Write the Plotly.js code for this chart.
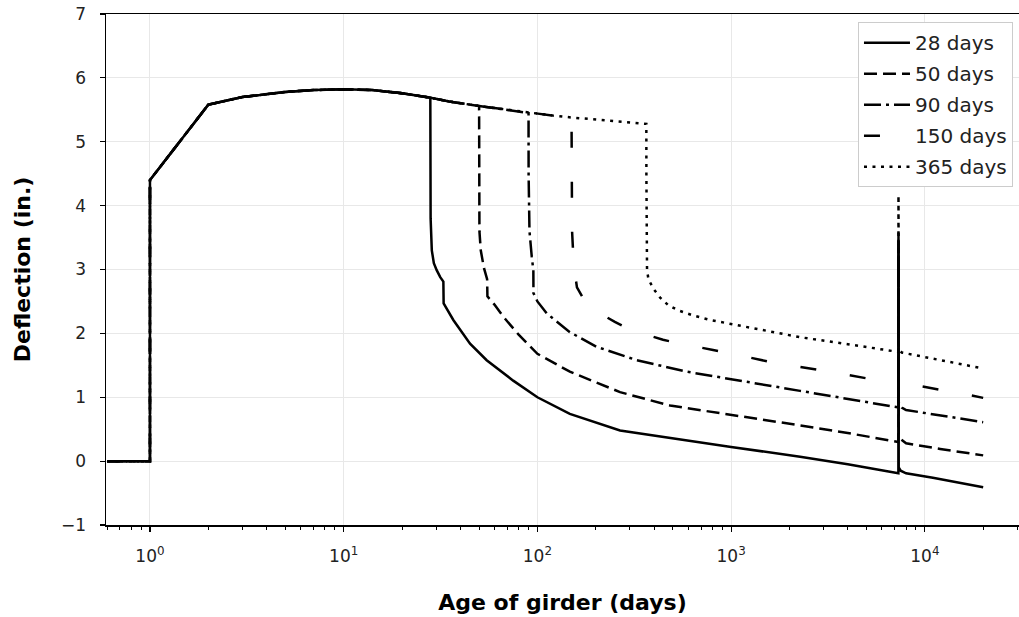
<!DOCTYPE html>
<html>
<head>
<meta charset="utf-8">
<script src="https://cdn.plot.ly/plotly-3.0.1.min.js"></script>
<style>html,body{margin:0;padding:0;background:#fff;}#chart{width:1019px;height:617px;}</style>
</head>
<body>
<div id="chart"></div>
<script>
// Shared curve before release (age in days, deflection in inches)
const preDays = [0.6, 1, 1, 2, 3, 4, 5, 7, 10, 14, 20, 28, 35, 50, 70, 90, 120, 150, 200, 250, 300, 365];
const preDefl = [0, 0, 4.4, 5.58, 5.70, 5.75, 5.78, 5.81, 5.82, 5.81, 5.76, 5.69, 5.63, 5.56, 5.50, 5.45, 5.41, 5.38, 5.35, 5.32, 5.30, 5.28];

const seriesNames = ['28 days', '50 days', '90 days', '150 days', '365 days'];
const releaseDays = [28, 50, 90, 150, 365];

// Curves after release
const post28Days = [28.02, 28.1, 28.5, 29.2, 30.2, 31.5, 32.7, 32.8, 36.8, 44.9, 54.7, 75, 100, 147, 267, 484, 700, 1000, 2270, 4000, 7300, 7310, 7330, 7500, 8000, 11000, 20000];
const post28Defl = [4.5, 3.8, 3.30, 3.10, 2.99, 2.88, 2.81, 2.47, 2.21, 1.84, 1.58, 1.26, 1.00, 0.74, 0.48, 0.36, 0.29, 0.22, 0.07, -0.05, -0.19, 3.58, -0.10, -0.15, -0.19, -0.26, -0.41];

const post50Days = [50.02, 50.2, 51, 53, 55, 55.2, 60, 66.7, 80, 100, 147, 267, 484, 691, 1000, 2270, 4000, 7300, 7310, 7330, 7400, 8000, 12000, 20000];
const post50Defl = [4.5, 3.6, 3.3, 3.02, 2.85, 2.58, 2.45, 2.26, 1.98, 1.68, 1.40, 1.08, 0.87, 0.80, 0.72, 0.56, 0.44, 0.30, 3.4, 0.42, 0.36, 0.28, 0.19, 0.09];

const post90Days = [90.05, 91, 93.5, 95, 95.3, 95.4, 100, 112, 147, 202, 326, 590, 1000, 2270, 7300, 7310, 7330, 7600, 8000, 20000];
const post90Defl = [4.5, 3.6, 3.2, 3.04, 2.99, 2.63, 2.5, 2.31, 2.02, 1.79, 1.58, 1.40, 1.28, 1.10, 0.84, 3.45, 0.92, 0.84, 0.80, 0.61];

const post150Days = [150.1, 151, 153, 156, 160, 170, 180, 200, 251, 301, 445, 545, 807, 988, 1600, 2950, 5370, 7300, 7310, 7330, 7600, 8820, 16000, 20000];
const post150Defl = [4.5, 3.6, 3.25, 2.95, 2.72, 2.58, 2.48, 2.35, 2.18, 2.06, 1.90, 1.84, 1.74, 1.69, 1.55, 1.42, 1.28, 1.22, 3.4, 1.28, 1.22, 1.19, 1.05, 0.99];

const post365Days = [365.2, 366, 368, 374, 397, 430, 474, 534, 638, 778, 987, 1253, 2270, 4000, 7300, 7310, 7330, 7600, 20000];
const post365Defl = [4.5, 3.6, 3.0, 2.85, 2.70, 2.56, 2.44, 2.36, 2.28, 2.21, 2.15, 2.09, 1.94, 1.83, 1.71, 4.16, 1.76, 1.70, 1.45];

const tickVals = [1, 10, 100, 1000, 10000];
const tickText = ['10<sup>0</sup>', '10<sup>1</sup>', '10<sup>2</sup>', '10<sup>3</sup>', '10<sup>4</sup>'];

const postDays = [post28Days, post50Days, post90Days, post150Days, post365Days];
const postDefl = [post28Defl, post50Defl, post90Defl, post150Defl, post365Defl];
const dashes = ['solid', '13px,6px', '17px,5px,3px,5px', '16px,34px', '3px,5.5px'];

const FONT = 'DejaVu Sans, Verdana, sans-serif';

const traces = seriesNames.map((name, i) => {
  const xs = [], ys = [];
  for (let k = 0; k < preDays.length; k++) {
    if (preDays[k] <= releaseDays[i]) { xs.push(preDays[k]); ys.push(preDefl[k]); }
  }
  return {
    type: 'scatter', mode: 'lines', name: name, legendgroup: name,
    x: xs.concat(postDays[i]), y: ys.concat(postDefl[i]),
    line: {color: '#000', width: 2.5, dash: dashes[i]},
    hoverinfo: 'skip'
  };
});

const layout = {
  width: 1019, height: 617,
  margin: {l: 106, r: 0, t: 14, b: 92},
  paper_bgcolor: '#fff', plot_bgcolor: '#fff',
  font: {family: FONT, color: '#000', size: 17},
  showlegend: true,
  legend: {
    x: 0.9934, xanchor: 'right', y: 0.984, yanchor: 'top',
    bgcolor: '#fff', bordercolor: '#cccccc', borderwidth: 1,
    font: {family: FONT, size: 20, color: '#222'},
    tracegroupgap: 2, itemwidth: 46
  },
  xaxis: {
    type: 'log', range: [-0.227, 4.486],
    tickmode: 'array', tickvals: tickVals, ticktext: tickText,
    ticks: 'outside', ticklen: 5, tickwidth: 1.2, tickcolor: '#000',
    ticklabelstandoff: 10,
    showline: true, linecolor: '#000', linewidth: 1.5, mirror: true,
    showgrid: true, gridcolor: '#e8e8e8', gridwidth: 1,
    zeroline: false,
    tickfont: {family: FONT, size: 17, color: '#222'},
    minor: {dtick: 'D1', ticks: 'outside', ticklen: 3, tickwidth: 1, tickcolor: '#000', showgrid: false},
    title: {text: '<b>Age of girder (days)</b>', font: {family: FONT, size: 22, color: '#000'}, standoff: 29}
  },
  yaxis: {
    range: [-1, 7], tickmode: 'linear', tick0: 0, dtick: 1,
    ticks: 'outside', ticklen: 5, tickwidth: 1.2, tickcolor: '#000',
    ticklabelstandoff: 10,
    showline: true, linecolor: '#000', linewidth: 1.5, mirror: false,
    showgrid: true, gridcolor: '#e8e8e8', gridwidth: 1,
    zeroline: false,
    tickfont: {family: FONT, size: 17, color: '#222'},
    title: {text: '<b>Deflection (in.)</b>', font: {family: FONT, size: 22, color: '#000'}, standoff: 24}
  }
};

Plotly.newPlot('chart', traces, layout, {staticPlot: true, displayModeBar: false});
</script>
</body>
</html>
